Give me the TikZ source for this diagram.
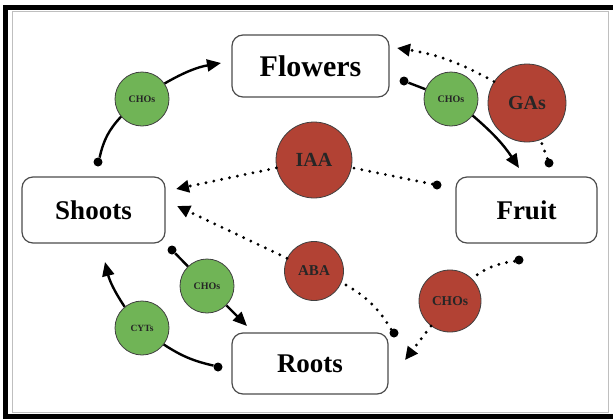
\documentclass[tikz,border=0pt]{standalone}
\usepackage{fontspec}
\setmainfont{Liberation Serif}
\usetikzlibrary{arrows.meta}

\definecolor{hormred}{RGB}{178,66,52}
\definecolor{sugargreen}{RGB}{112,180,86}

\begin{document}
\begin{tikzpicture}[x=1pt,y=-1pt,
    organ/.style={draw=black!70,line width=1.2pt,rounded corners=11pt,fill=white,
        font=\fontsize{27}{30}\selectfont\bfseries},
    hormone/.style={circle,draw=black!75,line width=0.8pt,fill=hormred,inner sep=0pt,text=black!85},
    sugar/.style={circle,draw=black!75,line width=0.8pt,fill=sugargreen,inner sep=0pt,
        minimum size=54pt,text=black!85,font=\fontsize{10}{12}\selectfont\bfseries},
    blob/.style={circle,fill=black,inner sep=0pt,minimum size=9pt},
    link/.style={line width=2.4pt},
    flow/.style={line width=2.4pt,-{Triangle[length=14pt,width=12pt]}},
    cue/.style={line width=3.2pt,line cap=round,dash pattern=on 0pt off 8pt},
    cueflow/.style={cue,-{Triangle[length=13pt,width=12pt]}}]
    \useasboundingbox (0,0) rectangle (613,418);
    \fill[white] (0,0) rectangle (613,418);
    \draw[black!25,line width=1pt] (12,11) rectangle (608,412.5);
    \draw[line width=5pt] (613,7) -- (5.5,7) -- (5.5,416.5) -- (613,416.5);

    \node[organ,minimum width=157pt,minimum height=62pt,font=\fontsize{30}{32}\selectfont\bfseries] (flowers) at (310.5,66) {Flowers};
    \node[organ,minimum width=143pt,minimum height=66pt] (shoots) at (93.5,210) {Shoots};
    \node[organ,minimum width=141pt,minimum height=66pt] (fruit) at (526.5,210) {Fruit};
    \node[organ,minimum width=156pt,minimum height=61pt] (roots) at (310,363.5) {Roots};

    \node[sugar] (choA) at (142,99) {CHOs};
    \node[sugar] (choB) at (451,99) {CHOs};
    \node[sugar] (choC) at (207,286) {CHOs};
    \node[sugar,font=\fontsize{9.5}{11}\selectfont\bfseries] (cyt) at (142,328) {CYTs};
    \node[hormone,minimum size=76pt,font=\fontsize{20}{22}\selectfont\bfseries] (iaa) at (314,160) {IAA};
    \node[hormone,minimum size=78pt,font=\fontsize{20}{22}\selectfont\bfseries] (gas) at (527,103) {GAs};
    \node[hormone,minimum size=59pt,font=\fontsize{15}{17}\selectfont\bfseries] (aba) at (314,271) {ABA};
    \node[hormone,minimum size=62pt,font=\fontsize{13.5}{15}\selectfont\bfseries] (choR) at (450,301) {CHOs};

    \node[blob] (bA) at (98,162) {};
    \node[blob] (bB) at (404,81) {};
    \node[blob] (bC) at (549,163) {};
    \node[blob] (bD) at (437,185) {};
    \node[blob] (bE) at (394,333) {};
    \node[blob] (bF) at (519,260) {};
    \node[blob] (bG) at (172,250) {};
    \node[blob] (bH) at (218,367) {};

    \coordinate (tFl) at (221,63);
    \coordinate (tFr) at (519,168);
    \coordinate (tGa) at (397,48);
    \coordinate (tIa) at (176,189);
    \coordinate (tAb) at (177,206);
    \coordinate (tRo) at (405,360);
    \coordinate (tRc) at (247,326);
    \coordinate (tSh) at (105,262);

    \draw[link] (bA) to[bend left=15] (choA);
    \draw[flow] (choA) to[bend left=10] (tFl);
    \draw[link] (bB) -- (choB);
    \draw[flow] (choB) to[bend left=8] (tFr);
    \draw[link] (bG) -- (choC);
    \draw[flow] (choC) -- (tRc);
    \draw[link] (bH) to[bend left=10] (cyt);
    \draw[flow] (cyt) to[bend left=10] (tSh);

    \draw[cue] (bC) -- (gas);
    \draw[cueflow] (gas) to[bend right=10] (tGa);
    \draw[cue] (bD) -- (iaa);
    \draw[cueflow] (iaa) -- (tIa);
    \draw[cue] (bE) to[bend right=15] (aba);
    \draw[cueflow] (aba) -- (tAb);
    \draw[cue] (bF) to[bend right=15] (choR);
    \draw[cueflow] (choR) -- (tRo);
\end{tikzpicture}
\end{document}
